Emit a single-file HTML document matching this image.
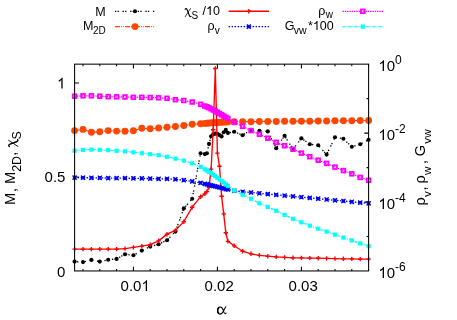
<!DOCTYPE html>
<html><head><meta charset="utf-8"><title>plot</title>
<style>html,body{margin:0;padding:0;background:#fff}svg{display:block;will-change:transform}text{font-family:"Liberation Sans",sans-serif;fill:#000}</style>
</head><body>
<svg width="457" height="320" viewBox="0 0 457 320">
<rect width="457" height="320" fill="#fff"/>
<defs>
<circle id="mo" r="3.45" fill="#ff4500"/>
<circle id="mk" r="2.05" fill="#000"/>
<path id="mr" d="M-2.2,0H2.2M0,-2.2V2.2" stroke="#f00" stroke-width="1.35" fill="none"/>
<rect id="mm" x="-1.85" y="-1.85" width="3.7" height="3.7" fill="none" stroke="#f0f" stroke-width="1.8"/>
<rect id="mc" x="-2.1" y="-2.1" width="4.2" height="4.2" fill="#0ff"/>
<g id="mb"><rect x="-1.7" y="-1.7" width="3.4" height="3.4" fill="#00f"/><path d="M-2.05,-2.15L2.05,2.15M-2.05,2.15L2.05,-2.15" stroke="#00f" stroke-width="1.3" fill="none"/></g>
</defs>
<path d="M83.0,271.0v-2.0M83.0,64.15v2.0M99.8,271.0v-2.0M99.8,64.15v2.0M116.6,271.0v-2.0M116.6,64.15v2.0M133.4,271.0v-4.3M133.4,64.15v4.3M150.2,271.0v-2.0M150.2,64.15v2.0M167.0,271.0v-2.0M167.0,64.15v2.0M183.8,271.0v-2.0M183.8,64.15v2.0M200.6,271.0v-2.0M200.6,64.15v2.0M217.4,271.0v-4.3M217.4,64.15v4.3M234.2,271.0v-2.0M234.2,64.15v2.0M251.0,271.0v-2.0M251.0,64.15v2.0M267.8,271.0v-2.0M267.8,64.15v2.0M284.6,271.0v-2.0M284.6,64.15v2.0M301.4,271.0v-4.3M301.4,64.15v4.3M318.2,271.0v-2.0M318.2,64.15v2.0M335.0,271.0v-2.0M335.0,64.15v2.0M351.8,271.0v-2.0M351.8,64.15v2.0M368.6,271.0v-2.0M368.6,64.15v2.0M74.6,177.0h4.3M74.6,83.0h4.3M368.6,98.6h-2.0M368.6,133.1h-4.3M368.6,167.6h-2.0M368.6,202.1h-4.3M368.6,236.5h-2.0" fill="none" stroke="#000" stroke-width="1.05"/>
<polyline points="74.6,261.6 83.0,262.1 91.4,259.9 99.8,261.6 108.2,259.8 116.6,258.9 125.0,254.2 133.4,255.3 141.8,250.6 150.2,246.6 158.6,244.2 167.0,240.2 175.4,231.6 183.8,208.4 192.2,198.8 200.6,153.2 204.8,154.1 206.9,153.3 209.0,143.9 211.1,136.2 213.2,134.2 215.3,133.6 217.4,133.8 219.5,135.1 221.6,136.4 223.7,132.3 225.8,129.9 227.9,132.9 234.2,131.8 242.6,135.2 251.0,129.9 259.4,130.8 267.8,131.4 276.2,148.3 284.6,135.8 293.0,149.2 301.4,138.2 309.8,144.2 318.2,145.3 326.6,154.6 335.0,137.3 343.4,138.8 351.8,146.8 360.2,144.2 368.6,139.8" fill="none" stroke="#000" stroke-width="1.35" stroke-dasharray="1.3 1.2 1.3 3.8"/>
<g><use href="#mk" x="74.6" y="261.6"/><use href="#mk" x="83.0" y="262.1"/><use href="#mk" x="91.4" y="259.9"/><use href="#mk" x="99.8" y="261.6"/><use href="#mk" x="108.2" y="259.8"/><use href="#mk" x="116.6" y="258.9"/><use href="#mk" x="125.0" y="254.2"/><use href="#mk" x="133.4" y="255.3"/><use href="#mk" x="141.8" y="250.6"/><use href="#mk" x="150.2" y="246.6"/><use href="#mk" x="158.6" y="244.2"/><use href="#mk" x="167.0" y="240.2"/><use href="#mk" x="175.4" y="231.6"/><use href="#mk" x="183.8" y="208.4"/><use href="#mk" x="192.2" y="198.8"/><use href="#mk" x="200.6" y="153.2"/><use href="#mk" x="204.8" y="154.1"/><use href="#mk" x="206.9" y="153.3"/><use href="#mk" x="209.0" y="143.9"/><use href="#mk" x="211.1" y="136.2"/><use href="#mk" x="213.2" y="134.2"/><use href="#mk" x="215.3" y="133.6"/><use href="#mk" x="217.4" y="133.8"/><use href="#mk" x="219.5" y="135.1"/><use href="#mk" x="221.6" y="136.4"/><use href="#mk" x="223.7" y="132.3"/><use href="#mk" x="225.8" y="129.9"/><use href="#mk" x="227.9" y="132.9"/><use href="#mk" x="234.2" y="131.8"/><use href="#mk" x="242.6" y="135.2"/><use href="#mk" x="251.0" y="129.9"/><use href="#mk" x="259.4" y="130.8"/><use href="#mk" x="267.8" y="131.4"/><use href="#mk" x="276.2" y="148.3"/><use href="#mk" x="284.6" y="135.8"/><use href="#mk" x="293.0" y="149.2"/><use href="#mk" x="301.4" y="138.2"/><use href="#mk" x="309.8" y="144.2"/><use href="#mk" x="318.2" y="145.3"/><use href="#mk" x="326.6" y="154.6"/><use href="#mk" x="335.0" y="137.3"/><use href="#mk" x="343.4" y="138.8"/><use href="#mk" x="351.8" y="146.8"/><use href="#mk" x="360.2" y="144.2"/><use href="#mk" x="368.6" y="139.8"/></g>
<polyline points="74.6,130.6 83.0,129.4 91.4,132.2 99.8,131.8 108.2,130.6 116.6,131.1 125.0,131.2 133.4,130.8 141.8,128.3 150.2,128.8 158.6,128.0 167.0,127.2 175.4,126.5 183.8,125.5 192.2,124.3 200.6,123.8 204.8,123.4 206.9,123.2 209.0,123.0 211.1,122.9 213.2,122.8 215.3,122.6 217.4,122.5 219.5,122.3 221.6,122.2 223.7,122.1 225.8,122.0 227.9,121.9 234.2,121.8 242.6,121.7 251.0,121.7 259.4,121.5 267.8,121.5 276.2,121.5 284.6,121.3 293.0,121.2 301.4,121.2 309.8,121.2 318.2,121.0 326.6,121.0 335.0,120.8 343.4,120.8 351.8,120.7 360.2,120.5 368.6,120.5" fill="none" stroke="#ff4500" stroke-width="1.2" stroke-dasharray="5 1.2 0.8 0.9 0.8 1.3"/>
<g><use href="#mo" x="74.6" y="130.6"/><use href="#mo" x="83.0" y="129.4"/><use href="#mo" x="91.4" y="132.2"/><use href="#mo" x="99.8" y="131.8"/><use href="#mo" x="108.2" y="130.6"/><use href="#mo" x="116.6" y="131.1"/><use href="#mo" x="125.0" y="131.2"/><use href="#mo" x="133.4" y="130.8"/><use href="#mo" x="141.8" y="128.3"/><use href="#mo" x="150.2" y="128.8"/><use href="#mo" x="158.6" y="128.0"/><use href="#mo" x="167.0" y="127.2"/><use href="#mo" x="175.4" y="126.5"/><use href="#mo" x="183.8" y="125.5"/><use href="#mo" x="192.2" y="124.3"/><use href="#mo" x="200.6" y="123.8"/><use href="#mo" x="204.8" y="123.4"/><use href="#mo" x="206.9" y="123.2"/><use href="#mo" x="209.0" y="123.0"/><use href="#mo" x="211.1" y="122.9"/><use href="#mo" x="213.2" y="122.8"/><use href="#mo" x="215.3" y="122.6"/><use href="#mo" x="217.4" y="122.5"/><use href="#mo" x="219.5" y="122.3"/><use href="#mo" x="221.6" y="122.2"/><use href="#mo" x="223.7" y="122.1"/><use href="#mo" x="225.8" y="122.0"/><use href="#mo" x="227.9" y="121.9"/><use href="#mo" x="234.2" y="121.8"/><use href="#mo" x="242.6" y="121.7"/><use href="#mo" x="251.0" y="121.7"/><use href="#mo" x="259.4" y="121.5"/><use href="#mo" x="267.8" y="121.5"/><use href="#mo" x="276.2" y="121.5"/><use href="#mo" x="284.6" y="121.3"/><use href="#mo" x="293.0" y="121.2"/><use href="#mo" x="301.4" y="121.2"/><use href="#mo" x="309.8" y="121.2"/><use href="#mo" x="318.2" y="121.0"/><use href="#mo" x="326.6" y="121.0"/><use href="#mo" x="335.0" y="120.8"/><use href="#mo" x="343.4" y="120.8"/><use href="#mo" x="351.8" y="120.7"/><use href="#mo" x="360.2" y="120.5"/><use href="#mo" x="368.6" y="120.5"/></g>
<polyline points="74.6,249.1 83.0,249.1 91.4,249.1 99.8,249.1 108.2,249.1 116.6,249.1 125.0,248.6 133.4,247.4 141.8,246.1 150.2,244.7 158.6,240.8 167.0,234.2 175.4,230.4 183.8,221.7 192.2,207.2 200.6,196.7 204.8,193.8 206.9,191.6 209.0,187.2 211.1,169.1 213.2,129.7 215.3,68.5 217.4,153.1 219.5,166.2 221.6,196.2 223.7,213.8 225.8,232.7 227.9,241.3 234.2,245.8 242.6,251.2 251.0,253.8 259.4,255.3 267.8,256.2 276.2,256.9 284.6,257.4 293.0,257.8 301.4,257.9 309.8,258.1 318.2,258.2 326.6,258.4 335.0,258.6 343.4,258.8 351.8,258.9 360.2,259.1 368.6,259.1" fill="none" stroke="#f00" stroke-width="1.35"/>
<g><use href="#mr" x="74.6" y="249.1"/><use href="#mr" x="83.0" y="249.1"/><use href="#mr" x="91.4" y="249.1"/><use href="#mr" x="99.8" y="249.1"/><use href="#mr" x="108.2" y="249.1"/><use href="#mr" x="116.6" y="249.1"/><use href="#mr" x="125.0" y="248.6"/><use href="#mr" x="133.4" y="247.4"/><use href="#mr" x="141.8" y="246.1"/><use href="#mr" x="150.2" y="244.7"/><use href="#mr" x="158.6" y="240.8"/><use href="#mr" x="167.0" y="234.2"/><use href="#mr" x="175.4" y="230.4"/><use href="#mr" x="183.8" y="221.7"/><use href="#mr" x="192.2" y="207.2"/><use href="#mr" x="200.6" y="196.7"/><use href="#mr" x="204.8" y="193.8"/><use href="#mr" x="206.9" y="191.6"/><use href="#mr" x="209.0" y="187.2"/><use href="#mr" x="211.1" y="169.1"/><use href="#mr" x="213.2" y="129.7"/><use href="#mr" x="215.3" y="68.5"/><use href="#mr" x="217.4" y="153.1"/><use href="#mr" x="219.5" y="166.2"/><use href="#mr" x="221.6" y="196.2"/><use href="#mr" x="223.7" y="213.8"/><use href="#mr" x="225.8" y="232.7"/><use href="#mr" x="227.9" y="241.3"/><use href="#mr" x="234.2" y="245.8"/><use href="#mr" x="242.6" y="251.2"/><use href="#mr" x="251.0" y="253.8"/><use href="#mr" x="259.4" y="255.3"/><use href="#mr" x="267.8" y="256.2"/><use href="#mr" x="276.2" y="256.9"/><use href="#mr" x="284.6" y="257.4"/><use href="#mr" x="293.0" y="257.8"/><use href="#mr" x="301.4" y="257.9"/><use href="#mr" x="309.8" y="258.1"/><use href="#mr" x="318.2" y="258.2"/><use href="#mr" x="326.6" y="258.4"/><use href="#mr" x="335.0" y="258.6"/><use href="#mr" x="343.4" y="258.8"/><use href="#mr" x="351.8" y="258.9"/><use href="#mr" x="360.2" y="259.1"/><use href="#mr" x="368.6" y="259.1"/></g>
<polyline points="74.6,177.6 83.0,177.7 91.4,177.8 99.8,177.8 108.2,178.1 116.6,178.2 125.0,178.2 133.4,178.3 141.8,178.4 150.2,178.6 158.6,178.8 167.0,178.8 175.4,179.3 183.8,180.2 192.2,181.4 200.6,182.9 204.8,183.9 206.9,184.4 209.0,184.8 211.1,185.4 213.2,185.9 215.3,186.4 217.4,186.9 219.5,187.5 221.6,188.0 223.7,188.5 225.8,189.1 227.9,189.5 234.2,190.7 242.6,191.8 251.0,192.5 259.4,193.3 267.8,194.1 276.2,194.8 284.6,195.6 293.0,196.4 301.4,197.2 309.8,197.9 318.2,198.7 326.6,199.5 335.0,200.3 343.4,201.0 351.8,201.8 360.2,202.6 368.6,203.3" fill="none" stroke="#00f" stroke-width="1.3" stroke-dasharray="1.5 1.5"/>
<g><use href="#mb" x="74.6" y="177.6"/><use href="#mb" x="83.0" y="177.7"/><use href="#mb" x="91.4" y="177.8"/><use href="#mb" x="99.8" y="177.8"/><use href="#mb" x="108.2" y="178.1"/><use href="#mb" x="116.6" y="178.2"/><use href="#mb" x="125.0" y="178.2"/><use href="#mb" x="133.4" y="178.3"/><use href="#mb" x="141.8" y="178.4"/><use href="#mb" x="150.2" y="178.6"/><use href="#mb" x="158.6" y="178.8"/><use href="#mb" x="167.0" y="178.8"/><use href="#mb" x="175.4" y="179.3"/><use href="#mb" x="183.8" y="180.2"/><use href="#mb" x="192.2" y="181.4"/><use href="#mb" x="200.6" y="182.9"/><use href="#mb" x="204.8" y="183.9"/><use href="#mb" x="206.9" y="184.4"/><use href="#mb" x="209.0" y="184.8"/><use href="#mb" x="211.1" y="185.4"/><use href="#mb" x="213.2" y="185.9"/><use href="#mb" x="215.3" y="186.4"/><use href="#mb" x="217.4" y="186.9"/><use href="#mb" x="219.5" y="187.5"/><use href="#mb" x="221.6" y="188.0"/><use href="#mb" x="223.7" y="188.5"/><use href="#mb" x="225.8" y="189.1"/><use href="#mb" x="227.9" y="189.5"/><use href="#mb" x="234.2" y="190.7"/><use href="#mb" x="242.6" y="191.8"/><use href="#mb" x="251.0" y="192.5"/><use href="#mb" x="259.4" y="193.3"/><use href="#mb" x="267.8" y="194.1"/><use href="#mb" x="276.2" y="194.8"/><use href="#mb" x="284.6" y="195.6"/><use href="#mb" x="293.0" y="196.4"/><use href="#mb" x="301.4" y="197.2"/><use href="#mb" x="309.8" y="197.9"/><use href="#mb" x="318.2" y="198.7"/><use href="#mb" x="326.6" y="199.5"/><use href="#mb" x="335.0" y="200.3"/><use href="#mb" x="343.4" y="201.0"/><use href="#mb" x="351.8" y="201.8"/><use href="#mb" x="360.2" y="202.6"/><use href="#mb" x="368.6" y="203.3"/></g>
<polyline points="74.6,96.2 83.0,95.8 91.4,95.8 99.8,96.2 108.2,96.7 116.6,96.8 125.0,97.0 133.4,97.3 141.8,97.3 150.2,97.5 158.6,97.8 167.0,98.3 175.4,99.7 183.8,100.5 192.2,102.0 200.6,104.3 204.8,106.0 206.9,106.8 209.0,107.7 211.1,108.8 213.2,110.0 215.3,111.1 217.4,112.2 219.5,113.5 221.6,114.8 223.7,116.0 225.8,117.2 227.9,118.5 234.2,122.3 242.6,126.3 251.0,130.6 259.4,134.3 267.8,138.2 276.2,142.3 284.6,145.7 293.0,149.2 301.4,153.1 309.8,156.7 318.2,160.2 326.6,163.4 335.0,167.1 343.4,170.6 351.8,173.8 360.2,177.4 368.6,180.3" fill="none" stroke="#f0f" stroke-width="1.2" stroke-dasharray="1.4 0.9"/>
<g><use href="#mm" x="74.6" y="96.2"/><use href="#mm" x="83.0" y="95.8"/><use href="#mm" x="91.4" y="95.8"/><use href="#mm" x="99.8" y="96.2"/><use href="#mm" x="108.2" y="96.7"/><use href="#mm" x="116.6" y="96.8"/><use href="#mm" x="125.0" y="97.0"/><use href="#mm" x="133.4" y="97.3"/><use href="#mm" x="141.8" y="97.3"/><use href="#mm" x="150.2" y="97.5"/><use href="#mm" x="158.6" y="97.8"/><use href="#mm" x="167.0" y="98.3"/><use href="#mm" x="175.4" y="99.7"/><use href="#mm" x="183.8" y="100.5"/><use href="#mm" x="192.2" y="102.0"/><use href="#mm" x="200.6" y="104.3"/><use href="#mm" x="204.8" y="106.0"/><use href="#mm" x="206.9" y="106.8"/><use href="#mm" x="209.0" y="107.7"/><use href="#mm" x="211.1" y="108.8"/><use href="#mm" x="213.2" y="110.0"/><use href="#mm" x="215.3" y="111.1"/><use href="#mm" x="217.4" y="112.2"/><use href="#mm" x="219.5" y="113.5"/><use href="#mm" x="221.6" y="114.8"/><use href="#mm" x="223.7" y="116.0"/><use href="#mm" x="225.8" y="117.2"/><use href="#mm" x="227.9" y="118.5"/><use href="#mm" x="234.2" y="122.3"/><use href="#mm" x="242.6" y="126.3"/><use href="#mm" x="251.0" y="130.6"/><use href="#mm" x="259.4" y="134.3"/><use href="#mm" x="267.8" y="138.2"/><use href="#mm" x="276.2" y="142.3"/><use href="#mm" x="284.6" y="145.7"/><use href="#mm" x="293.0" y="149.2"/><use href="#mm" x="301.4" y="153.1"/><use href="#mm" x="309.8" y="156.7"/><use href="#mm" x="318.2" y="160.2"/><use href="#mm" x="326.6" y="163.4"/><use href="#mm" x="335.0" y="167.1"/><use href="#mm" x="343.4" y="170.6"/><use href="#mm" x="351.8" y="173.8"/><use href="#mm" x="360.2" y="177.4"/><use href="#mm" x="368.6" y="180.3"/></g>
<polyline points="74.6,150.7 83.0,149.9 91.4,149.6 99.8,149.8 108.2,150.2 116.6,150.8 125.0,151.4 133.4,152.3 141.8,153.2 150.2,154.2 158.6,155.2 167.0,156.8 175.4,158.6 183.8,160.6 192.2,163.3 200.6,166.8 204.8,169.3 206.9,170.5 209.0,171.8 211.1,173.2 213.2,174.8 215.3,176.2 217.4,177.8 219.5,179.4 221.6,181.0 223.7,182.6 225.8,184.2 227.9,185.8 234.2,190.4 242.6,194.8 251.0,198.7 259.4,203.3 267.8,206.9 276.2,210.8 284.6,214.9 293.0,218.8 301.4,222.3 309.8,225.7 318.2,228.7 326.6,231.6 335.0,234.6 343.4,237.6 351.8,240.4 360.2,243.4 368.6,246.2" fill="none" stroke="#0ff" stroke-width="1.2" stroke-dasharray="3 1.1 0.8 1.1"/>
<g><use href="#mc" x="74.6" y="150.7"/><use href="#mc" x="83.0" y="149.9"/><use href="#mc" x="91.4" y="149.6"/><use href="#mc" x="99.8" y="149.8"/><use href="#mc" x="108.2" y="150.2"/><use href="#mc" x="116.6" y="150.8"/><use href="#mc" x="125.0" y="151.4"/><use href="#mc" x="133.4" y="152.3"/><use href="#mc" x="141.8" y="153.2"/><use href="#mc" x="150.2" y="154.2"/><use href="#mc" x="158.6" y="155.2"/><use href="#mc" x="167.0" y="156.8"/><use href="#mc" x="175.4" y="158.6"/><use href="#mc" x="183.8" y="160.6"/><use href="#mc" x="192.2" y="163.3"/><use href="#mc" x="200.6" y="166.8"/><use href="#mc" x="204.8" y="169.3"/><use href="#mc" x="206.9" y="170.5"/><use href="#mc" x="209.0" y="171.8"/><use href="#mc" x="211.1" y="173.2"/><use href="#mc" x="213.2" y="174.8"/><use href="#mc" x="215.3" y="176.2"/><use href="#mc" x="217.4" y="177.8"/><use href="#mc" x="219.5" y="179.4"/><use href="#mc" x="221.6" y="181.0"/><use href="#mc" x="223.7" y="182.6"/><use href="#mc" x="225.8" y="184.2"/><use href="#mc" x="227.9" y="185.8"/><use href="#mc" x="234.2" y="190.4"/><use href="#mc" x="242.6" y="194.8"/><use href="#mc" x="251.0" y="198.7"/><use href="#mc" x="259.4" y="203.3"/><use href="#mc" x="267.8" y="206.9"/><use href="#mc" x="276.2" y="210.8"/><use href="#mc" x="284.6" y="214.9"/><use href="#mc" x="293.0" y="218.8"/><use href="#mc" x="301.4" y="222.3"/><use href="#mc" x="309.8" y="225.7"/><use href="#mc" x="318.2" y="228.7"/><use href="#mc" x="326.6" y="231.6"/><use href="#mc" x="335.0" y="234.6"/><use href="#mc" x="343.4" y="237.6"/><use href="#mc" x="351.8" y="240.4"/><use href="#mc" x="360.2" y="243.4"/><use href="#mc" x="368.6" y="246.2"/></g>
<rect x="74.6" y="64.15" width="294.0" height="206.8" fill="none" stroke="#000" stroke-width="1.05"/>
<path d="M115,11.3H155" stroke="#000" stroke-width="1.35" fill="none" stroke-dasharray="1.3 1.2 1.3 3.8"/>
<use href="#mk" x="135.0" y="11.3"/>
<path d="M115,26.6H155" stroke="#ff4500" stroke-width="1.2" fill="none" stroke-dasharray="5 1.2 0.8 0.9 0.8 1.3"/>
<use href="#mo" x="135.0" y="26.6"/>
<path d="M228.6,11.2H269" stroke="#f00" stroke-width="1.35" fill="none"/>
<use href="#mr" x="248.8" y="11.2"/>
<path d="M228.6,26.6H269" stroke="#00f" stroke-width="1.3" fill="none" stroke-dasharray="1.5 1.5"/>
<use href="#mb" x="248.8" y="26.6"/>
<path d="M342.5,11.3H383" stroke="#f0f" stroke-width="1.2" fill="none" stroke-dasharray="1.4 0.9"/>
<use href="#mm" x="362.8" y="11.3"/>
<path d="M342.5,26.6H383" stroke="#0ff" stroke-width="1.2" fill="none" stroke-dasharray="3 1.1 0.8 1.1"/>
<use href="#mc" x="362.8" y="26.6"/>
<text x="105.7" y="16.1" font-size="12.5px" text-anchor="end">M</text>
<text x="82.9" y="30.0" font-size="12.5px">M</text>
<text x="93.0" y="34.1" font-size="10px">2D</text>
<g transform="translate(185.0,14.8) scale(11.875)" fill="none" stroke="#000" stroke-linecap="round"><path stroke-width="0.065" d="M0.46,-0.524L0.02,0.156"/><path stroke-width="0.1" d="M0.012,-0.46C0.05,-0.53 0.135,-0.545 0.185,-0.415L0.36,0.048C0.4,0.152 0.464,0.176 0.512,0.135"/></g>
<text x="191.4" y="18.5" font-size="10px">S</text>
<text x="202.60" y="14.90" font-size="12.5px">/</text>
<path transform="translate(206.07,14.90) scale(0.00610,-0.00610)" d="M763 0H583V1147Q518 1085 412.5 1023T223 930V1104Q374 1175 487 1276T647 1472H763Z"/>
<text x="213.02" y="14.90" font-size="12.5px">0</text>
<text x="207.4" y="30.0" font-size="12.5px">ρ</text>
<text x="214.7" y="34.3" font-size="10px">v</text>
<text x="318.3" y="15.4" font-size="12.5px">ρ</text>
<text x="325.7" y="18.4" font-size="10px">w</text>
<text x="284.8" y="30.0" font-size="12.5px">G</text>
<text x="293.8" y="34.0" font-size="10.5px">vw</text>
<text x="308.00" y="30.00" font-size="12.5px">*</text>
<path transform="translate(312.86,30.00) scale(0.00610,-0.00610)" d="M763 0H583V1147Q518 1085 412.5 1023T223 930V1104Q374 1175 487 1276T647 1472H763Z"/>
<text x="319.82" y="30.00" font-size="12.5px">00</text>
<text x="57.06" y="276.50" font-size="15px">0</text>
<text x="44.55" y="182.48" font-size="15px">0.5</text>
<path transform="translate(57.06,88.45) scale(0.00732,-0.00732)" d="M763 0H583V1147Q518 1085 412.5 1023T223 930V1104Q374 1175 487 1276T647 1472H763Z"/>
<text x="120.60" y="291.00" font-size="15px">0.0</text>
<path transform="translate(141.45,291.00) scale(0.00732,-0.00732)" d="M763 0H583V1147Q518 1085 412.5 1023T223 930V1104Q374 1175 487 1276T647 1472H763Z"/>
<text x="204.60" y="291.00" font-size="15px">0.02</text>
<text x="288.60" y="291.00" font-size="15px">0.03</text>
<path transform="translate(378.40,71.05) scale(0.00732,-0.00732)" d="M763 0H583V1147Q518 1085 412.5 1023T223 930V1104Q374 1175 487 1276T647 1472H763Z"/>
<text x="386.74" y="71.05" font-size="15px">0</text>
<text x="395.08" y="64.05" font-size="12px">0</text>
<path transform="translate(378.40,140.00) scale(0.00732,-0.00732)" d="M763 0H583V1147Q518 1085 412.5 1023T223 930V1104Q374 1175 487 1276T647 1472H763Z"/>
<text x="386.74" y="140.00" font-size="15px">0</text>
<text x="395.08" y="133.00" font-size="12px">-2</text>
<path transform="translate(378.40,208.95) scale(0.00732,-0.00732)" d="M763 0H583V1147Q518 1085 412.5 1023T223 930V1104Q374 1175 487 1276T647 1472H763Z"/>
<text x="386.74" y="208.95" font-size="15px">0</text>
<text x="395.08" y="201.95" font-size="12px">-4</text>
<path transform="translate(378.40,277.90) scale(0.00732,-0.00732)" d="M763 0H583V1147Q518 1085 412.5 1023T223 930V1104Q374 1175 487 1276T647 1472H763Z"/>
<text x="386.74" y="277.90" font-size="15px">0</text>
<text x="395.08" y="270.90" font-size="12px">-6</text>
<g fill="none" stroke="#000" stroke-linecap="round" stroke-linejoin="round"><path stroke-width="1.05" d="M225.8,306.8C224.7,308.5 224,310 223.4,311.3C222.6,313.1 221.5,314.1 220.1,314.1C218.4,314.1 217.5,312.6 217.5,310.5C217.5,308.4 218.5,306.9 220.2,306.9C221.6,306.9 222.6,308.1 223.2,310C223.8,311.9 224.2,313.8 225.1,313.8C225.6,313.8 225.9,313.5 226.1,313.1"/><path stroke-width="1.5" d="M218.9,313.4C217.9,312.7 217.7,311.6 217.7,310.5C217.7,309.4 217.9,308.3 218.9,307.6"/></g>
<g transform="translate(15.4,205.1) rotate(-90)">
<text x="0" y="0" font-size="14.5px">M</text>
<text x="13.0" y="0.7" font-size="14.5px">,</text>
<text x="21.0" y="0" font-size="14.5px">M</text>
<text x="33.3" y="5.5" font-size="12.4px">2D</text>
<text x="49.4" y="0.7" font-size="14.5px">,</text>
<g transform="translate(58.4,0.4) scale(13.775)" fill="none" stroke="#000" stroke-linecap="round"><path stroke-width="0.065" d="M0.46,-0.524L0.02,0.156"/><path stroke-width="0.1" d="M0.012,-0.46C0.05,-0.53 0.135,-0.545 0.185,-0.415L0.36,0.048C0.4,0.152 0.464,0.176 0.512,0.135"/></g>
<text x="65.7" y="5.1" font-size="12.4px">S</text>
</g>
<g transform="translate(425.2,205.5) rotate(-90)">
<text x="0" y="0" font-size="14.5px">ρ</text>
<text x="8.4" y="5.4" font-size="11.8px">v</text>
<text x="15.0" y="1.0" font-size="14.5px">,</text>
<text x="22.0" y="0" font-size="14.5px">ρ</text>
<text x="30.4" y="5.4" font-size="11.8px">w</text>
<text x="41.4" y="1.0" font-size="14.5px">,</text>
<text x="49.3" y="0" font-size="14.5px">G</text>
<text x="61.8" y="5.4" font-size="11.8px">vw</text>
</g>
</svg></body></html>
